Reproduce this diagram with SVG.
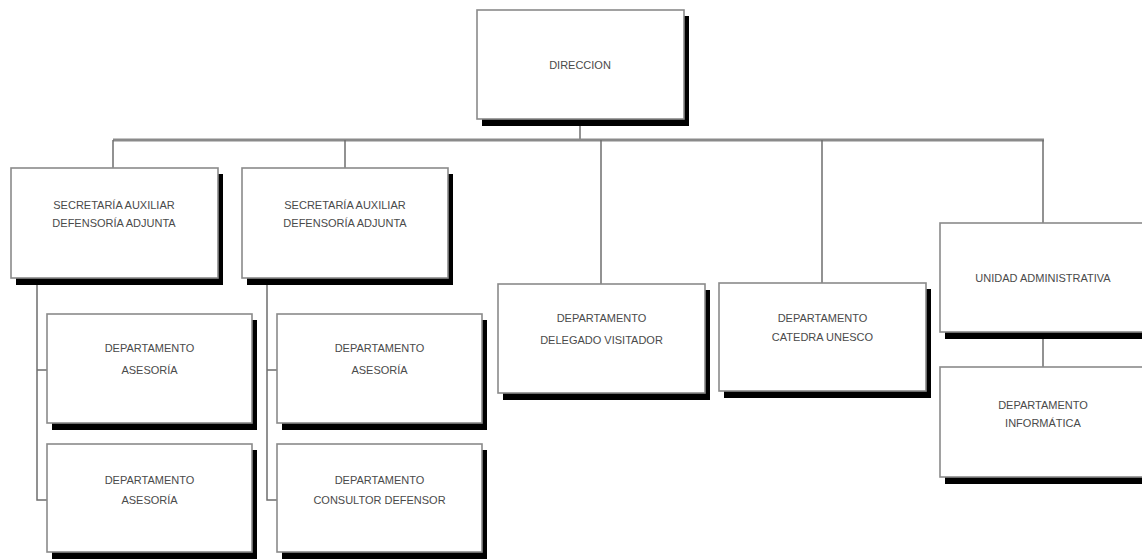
<svg xmlns="http://www.w3.org/2000/svg" width="1142" height="559" viewBox="0 0 1142 559">
<style>
.box{fill:#fff;stroke:#8a8a8a;stroke-width:1.6}
.sh{fill:#000}
.t{font-family:"Liberation Sans",Arial,sans-serif;font-size:11px;fill:#4a4a4a;text-anchor:middle}
.c{stroke:#6e6e6e;stroke-width:1.5;fill:none}
.main{stroke:#8a8a8a;stroke-width:3;fill:none}
</style>
<rect width="1142" height="559" fill="#fff"/>
<g id="connectors">
<line class="c" x1="580" y1="119" x2="580" y2="140"/>
<line class="main" x1="113" y1="140" x2="1044" y2="140"/>
<line class="c" x1="113" y1="140" x2="113" y2="168"/>
<line class="c" x1="345" y1="140" x2="345" y2="168"/>
<line class="c" x1="601" y1="140" x2="601" y2="284"/>
<line class="c" x1="822" y1="140" x2="822" y2="283"/>
<line class="c" x1="1043" y1="140" x2="1043" y2="223"/>
<polyline class="c" points="47,370 37,370 37,284 37,500 47,500"/>
<polyline class="c" points="277,370 267,370 267,284 267,500 277,500"/>
<line class="c" x1="1043" y1="332" x2="1043" y2="367"/>
</g>
<g id="direccion">
<rect class="sh" x="482" y="16" width="207" height="110"/>
<rect class="box" x="477" y="10" width="207" height="109"/>
<text class="t" x="580" y="69">DIRECCION</text>
</g>
<g id="secretaria1">
<rect class="sh" x="16" y="174" width="207" height="111"/>
<rect class="box" x="11" y="168" width="207" height="110"/>
<text class="t" x="114" y="209">SECRETARÍA AUXILIAR</text>
<text class="t" x="114" y="227">DEFENSORÍA ADJUNTA</text>
</g>
<g id="secretaria2">
<rect class="sh" x="247" y="174" width="206" height="111"/>
<rect class="box" x="242" y="168" width="206" height="110"/>
<text class="t" x="345" y="209">SECRETARÍA AUXILIAR</text>
<text class="t" x="345" y="227">DEFENSORÍA ADJUNTA</text>
</g>
<g id="asesoria1">
<rect class="sh" x="52" y="320" width="205" height="110"/>
<rect class="box" x="47" y="314" width="205" height="109"/>
<text class="t" x="149.500" y="352">DEPARTAMENTO</text>
<text class="t" x="149.500" y="374">ASESORÍA</text>
</g>
<g id="asesoria2">
<rect class="sh" x="52" y="450" width="205" height="109"/>
<rect class="box" x="47" y="444" width="205" height="108"/>
<text class="t" x="149.500" y="484">DEPARTAMENTO</text>
<text class="t" x="149.500" y="504">ASESORÍA</text>
</g>
<g id="asesoria3">
<rect class="sh" x="282" y="320" width="205" height="110"/>
<rect class="box" x="277" y="314" width="205" height="109"/>
<text class="t" x="379.500" y="352">DEPARTAMENTO</text>
<text class="t" x="379.500" y="374">ASESORÍA</text>
</g>
<g id="consultor">
<rect class="sh" x="282" y="450" width="205" height="109"/>
<rect class="box" x="277" y="444" width="205" height="108"/>
<text class="t" x="379.500" y="484">DEPARTAMENTO</text>
<text class="t" x="379.500" y="504">CONSULTOR DEFENSOR</text>
</g>
<g id="delegado">
<rect class="sh" x="503" y="290" width="207" height="110"/>
<rect class="box" x="498" y="284" width="207" height="109"/>
<text class="t" x="601.500" y="322">DEPARTAMENTO</text>
<text class="t" x="601.500" y="344">DELEGADO VISITADOR</text>
</g>
<g id="catedra">
<rect class="sh" x="724" y="289" width="207" height="109"/>
<rect class="box" x="719" y="283" width="207" height="108"/>
<text class="t" x="822.500" y="322">DEPARTAMENTO</text>
<text class="t" x="822.500" y="341">CATEDRA UNESCO</text>
</g>
<g id="unidad">
<rect class="sh" x="945" y="229" width="206" height="110"/>
<rect class="box" x="940" y="223" width="206" height="109"/>
<text class="t" x="1043" y="282">UNIDAD ADMINISTRATIVA</text>
</g>
<g id="informatica">
<rect class="sh" x="945" y="373" width="206" height="111"/>
<rect class="box" x="940" y="367" width="206" height="110"/>
<text class="t" x="1043" y="409">DEPARTAMENTO</text>
<text class="t" x="1043" y="427">INFORMÁTICA</text>
</g>
</svg>
